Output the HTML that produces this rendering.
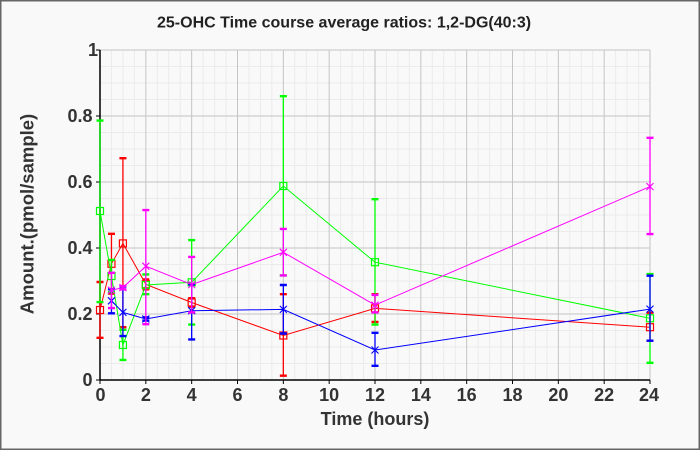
<!DOCTYPE html>
<html>
<head>
<meta charset="utf-8">
<style>
html,body{margin:0;padding:0;background:#f9f9f9;}
svg{display:block;}
text{font-family:"Liberation Sans",Arial,sans-serif;font-weight:bold;}
</style>
</head>
<body>
<svg width="700" height="450" viewBox="0 0 700 450" xmlns="http://www.w3.org/2000/svg">
<rect x="0" y="0" width="700" height="450" fill="#f9f9f9"/>
<rect x="0.75" y="0.75" width="698.5" height="448.5" fill="none" stroke="#666" stroke-width="1.5"/>

<!-- minor grid -->
<path stroke="#ebebeb" stroke-width="1" fill="none" d="
M111.46 50V380M122.92 50V380M134.38 50V380M157.29 50V380M168.75 50V380M180.21 50V380
M203.13 50V380M214.58 50V380M226.04 50V380M248.96 50V380M260.42 50V380M271.88 50V380
M294.79 50V380M306.25 50V380M317.71 50V380M340.63 50V380M352.08 50V380M363.54 50V380
M386.46 50V380M397.92 50V380M409.38 50V380M432.29 50V380M443.75 50V380M455.21 50V380
M478.13 50V380M489.58 50V380M501.04 50V380M523.96 50V380M535.42 50V380M546.88 50V380
M569.79 50V380M581.25 50V380M592.71 50V380M615.63 50V380M627.08 50V380M638.54 50V380
M100 363.5H650M100 347H650M100 330.5H650M100 297.5H650M100 281H650M100 264.5H650
M100 231.5H650M100 215H650M100 198.5H650M100 165.5H650M100 149H650M100 132.5H650
M100 99.5H650M100 83H650M100 66.5H650"/>
<!-- major grid -->
<path stroke="#c4c4c4" stroke-width="1" fill="none" d="
M145.83 50V380M191.67 50V380M237.5 50V380M283.33 50V380M329.17 50V380M375 50V380
M420.83 50V380M466.67 50V380M512.5 50V380M558.33 50V380M604.17 50V380M650 50V380
M100 314H650M100 248H650M100 182H650M100 116H650M100 50H650"/>

<!-- axes -->
<path stroke="#000" stroke-width="1.5" fill="none" d="M100 50V380H650"/>
<path stroke="#000" stroke-width="1" fill="none" d="
M96 50H100M96 116H100M96 182H100M96 248H100M96 314H100M96 380H100
M100 380V384M145.83 380V384M191.67 380V384M237.5 380V384M283.33 380V384M329.17 380V384M375 380V384
M420.83 380V384M466.67 380V384M512.5 380V384M558.33 380V384M604.17 380V384M650 380V384"/>

<!-- tick labels -->
<g fill="#333" font-size="18" text-anchor="end">
<text x="98" y="56">1</text>
<text x="92.5" y="122">0.8</text>
<text x="92.5" y="188">0.6</text>
<text x="92.5" y="254">0.4</text>
<text x="92.5" y="320">0.2</text>
<text x="92.5" y="386">0</text>
</g>
<g fill="#333" font-size="18" text-anchor="middle">
<text x="100.5" y="401">0</text>
<text x="145.83" y="401">2</text>
<text x="191.67" y="401">4</text>
<text x="237.5" y="401">6</text>
<text x="283.33" y="401">8</text>
<text x="329.17" y="401">10</text>
<text x="375" y="401">12</text>
<text x="420.83" y="401">14</text>
<text x="466.67" y="401">16</text>
<text x="512.5" y="401">18</text>
<text x="558.33" y="401">20</text>
<text x="604.17" y="401">22</text>
<text x="649" y="401">24</text>
</g>

<text x="157" y="27.5" font-size="16" fill="#222">25-OHC Time course average ratios: 1,2-DG(40:3)</text>
<text x="375" y="425" font-size="18" fill="#333" text-anchor="middle">Time (hours)</text>
<text x="33.5" y="214" font-size="18.5" fill="#333" text-anchor="middle" transform="rotate(-90 33.5 214)">Amount.(pmol/sample)</text>

<!-- RED -->
<g stroke="#ff0000" fill="none">
<path stroke-width="1.3" d="M100 282V337.8M111.46 233.8V293.5M122.92 158.2V327.2M145.83 279.4V289.3M191.67 298.2V306.7M283.33 294.2V375.7M375 294.2V321.9M650 312.7V340.7"/>
<path stroke-width="2.4" d="M96.5 282h7M96.5 337.8h7M107.96 233.8h7M107.96 293.5h7M119.42 158.2h7M119.42 327.2h7M142.33 279.4h7M142.33 289.3h7M188.17 298.2h7M188.17 306.7h7M279.83 294.2h7M279.83 375.7h7M371.5 294.2h7M371.5 321.9h7M646.5 312.7h7M646.5 340.7h7"/>
<polyline stroke-width="1" points="100,310 111.46,263.8 122.92,243.4 145.83,284.3 191.67,302.5 283.33,335.5 375,308.4 650,327.2"/>
<g stroke-width="1.2">
<rect x="96.5" y="306.5" width="7" height="7"/>
<rect x="107.96" y="260.3" width="7" height="7"/>
<rect x="119.42" y="239.9" width="7" height="7"/>
<rect x="142.33" y="280.8" width="7" height="7"/>
<rect x="188.17" y="299" width="7" height="7"/>
<rect x="279.83" y="332" width="7" height="7"/>
<rect x="371.5" y="304.9" width="7" height="7"/>
<rect x="646.5" y="323.7" width="7" height="7"/>
</g>
</g>

<!-- GREEN -->
<g stroke="#00ff00" fill="none">
<path stroke-width="1.3" d="M100 120.6V302.1M111.46 259.9V292.2M122.92 329.8V359.9M145.83 274.4V294.2M191.67 240.1V324.6M283.33 96.2V275.4M375 199.2V324.6M650 274.1V362.8"/>
<path stroke-width="2.4" d="M96.5 120.6h7M96.5 302.1h7M107.96 259.9h7M107.96 292.2h7M119.42 329.8h7M119.42 359.9h7M142.33 274.4h7M142.33 294.2h7M188.17 240.1h7M188.17 324.6h7M279.83 96.2h7M279.83 275.4h7M371.5 199.2h7M371.5 324.6h7M646.5 274.1h7M646.5 362.8h7"/>
<polyline stroke-width="1" points="100,211 111.46,276 122.92,345 145.83,285 191.67,282.3 283.33,186 375,262.2 650,318.3"/>
<g stroke-width="1.2">
<rect x="96.5" y="207.5" width="7" height="7"/>
<rect x="107.96" y="272.5" width="7" height="7"/>
<rect x="119.42" y="341.5" width="7" height="7"/>
<rect x="142.33" y="281.5" width="7" height="7"/>
<rect x="188.17" y="278.8" width="7" height="7"/>
<rect x="279.83" y="182.5" width="7" height="7"/>
<rect x="371.5" y="258.7" width="7" height="7"/>
<rect x="646.5" y="314.8" width="7" height="7"/>
</g>
</g>

<!-- BLUE -->
<g stroke="#0000ff" fill="none">
<path stroke-width="1.3" d="M111.46 289.3V313.3M122.92 286.6V336.1M145.83 317.3V320.6M191.67 284.3V339.4M283.33 285V333.5M375 332.8V365.8M650 275.7V340.7"/>
<path stroke-width="2.4" d="M107.96 289.3h7M107.96 313.3h7M119.42 286.6h7M119.42 336.1h7M142.33 317.3h7M142.33 320.6h7M188.17 284.3h7M188.17 339.4h7M279.83 285h7M279.83 333.5h7M371.5 332.8h7M371.5 365.8h7M646.5 275.7h7M646.5 340.7h7"/>
<polyline stroke-width="1" points="111.46,300.8 122.92,312.4 145.83,319 191.67,310.7 283.33,309.4 375,350 650,309.1"/>
<path stroke-width="1.1" d="M107.96 297.3l7 7m0-7l-7 7M119.42 308.9l7 7m0-7l-7 7M142.33 315.5l7 7m0-7l-7 7M188.17 307.2l7 7m0-7l-7 7M279.83 305.9l7 7m0-7l-7 7M371.5 346.5l7 7m0-7l-7 7M646.5 305.6l7 7m0-7l-7 7"/>
</g>

<!-- MAGENTA -->
<g stroke="#ff00ff" fill="none">
<path stroke-width="1.3" d="M111.46 272.8V308.1M122.92 286V289.3M145.83 210.1V324.2M191.67 256.9V312.4M283.33 228.9V275.4M375 294.9V312.4M650 137.8V234.1"/>
<path stroke-width="2.4" d="M107.96 272.8h7M107.96 308.1h7M119.42 286h7M119.42 289.3h7M142.33 210.1h7M142.33 324.2h7M188.17 256.9h7M188.17 312.4h7M279.83 228.9h7M279.83 275.4h7M371.5 294.9h7M371.5 312.4h7M646.5 137.8h7M646.5 234.1h7"/>
<polyline stroke-width="1" points="111.46,290.2 122.92,287.6 145.83,266.2 191.67,284.6 283.33,252.3 375,305.1 650,186.6"/>
<path stroke-width="1.1" d="M107.96 286.7l7 7m0-7l-7 7M119.42 284.1l7 7m0-7l-7 7M142.33 262.7l7 7m0-7l-7 7M188.17 281.1l7 7m0-7l-7 7M279.83 248.8l7 7m0-7l-7 7M371.5 301.6l7 7m0-7l-7 7M646.5 183.1l7 7m0-7l-7 7"/>
</g>
</svg>
</body>
</html>
